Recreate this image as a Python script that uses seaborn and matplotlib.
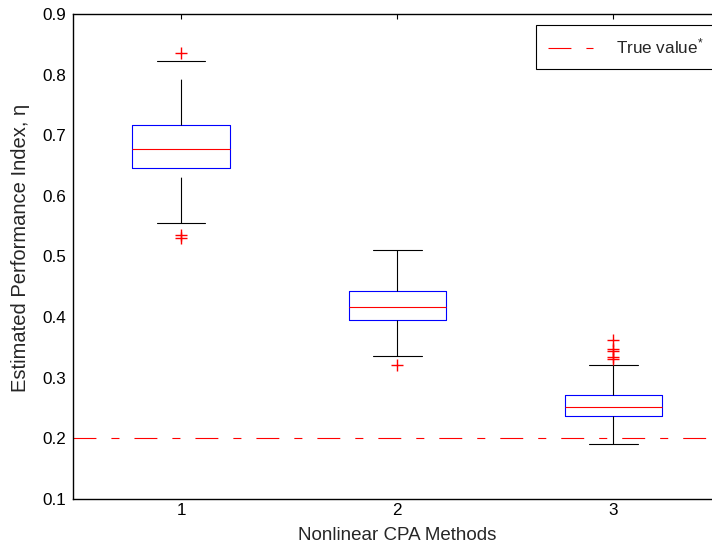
import numpy as np
import pandas as pd
import matplotlib
matplotlib.use("Agg")
import matplotlib.pyplot as plt
import seaborn as sns

# ---- data ----
methods = [1, 2, 3]
medians = [0.678, 0.417, 0.252]
q1 = [0.6455, 0.395, 0.237]
q3 = [0.717, 0.4435, 0.2715]
whisker_low = [0.555, 0.336, 0.191]
whisker_high = [0.8225, 0.511, 0.3215]
flier_method = [1, 1, 1, 2, 3, 3, 3, 3, 3]
flier_value = [0.835, 0.5355, 0.531, 0.321, 0.362, 0.348, 0.344, 0.335, 0.331]
true_value = 0.2
y_ticks = [0.1, 0.2, 0.3, 0.4, 0.5, 0.6, 0.7, 0.8, 0.9]
x_tick_labels = ["1", "2", "3"]

sns.set_style("white")
plt.rcParams['font.family'] = ['Liberation Sans', 'DejaVu Sans']
plt.rcParams['mathtext.fontset'] = 'custom'
plt.rcParams['mathtext.rm'] = 'Liberation Sans'
plt.rcParams['mathtext.it'] = 'Liberation Sans'
plt.rcParams['lines.scale_dashes'] = False

fig = plt.figure(figsize=(7.12, 5.49), dpi=100)
ax = fig.add_axes([73 / 712, 50 / 549, 648.5 / 712, 485 / 549])

stats = []
for i in range(len(methods)):
    stats.append(dict(med=medians[i], q1=q1[i], q3=q3[i],
                      whislo=whisker_low[i], whishi=whisker_high[i], fliers=[]))

art = ax.bxp(stats, positions=methods, widths=0.45, capwidths=0.225,
             showfliers=False,
             boxprops=dict(color='#0000ff', lw=0.8),
             medianprops=dict(color='#ff0000', lw=0.8),
             whiskerprops=dict(color='black', lw=0.8, linestyle=(0, (33, 14))),
             capprops=dict(color='black', lw=0.8))
# lower whiskers are drawn upward from the adjacent value, as in the reference
for w in art['whiskers'][0::2]:
    xd, yd = w.get_data()
    w.set_data(list(xd)[::-1], list(yd)[::-1])

df_fl = pd.DataFrame({'method': flier_method, 'value': flier_value})
sns.scatterplot(data=df_fl, x='method', y='value', marker='+', s=81,
                color='#ff0000', edgecolor='#ff0000', linewidth=1.0, ax=ax,
                zorder=3, legend=False)

ax.axhline(true_value, color='#ff0000', lw=0.8,
           linestyle=(0, (16.5, 10.8, 5.8, 10.8)), label='True value$^{*}$')

ax.set_xlim(0.5, 3.5)
ax.set_ylim(0.1, 0.9)
ax.set_xticks(methods)
ax.set_xticklabels(x_tick_labels)
ax.set_yticks(y_ticks)
ax.set_yticklabels([f"{v:.1f}" for v in y_ticks])

ax.tick_params(axis='both', direction='in', length=3.6, width=0.8,
               top=True, right=True, labelsize=12.3, colors='black')
ax.tick_params(axis='y', pad=4.6)
ax.tick_params(axis='x', pad=3)

for s in ax.spines.values():
    s.set_color('black')
    s.set_linewidth(1.0)

ax.set_xlabel('Nonlinear CPA Methods', fontsize=13.5)
ax.set_ylabel('Estimated Performance Index, η', fontsize=14.5)
ax.xaxis.set_label_coords(0.5, -0.058)
ax.yaxis.set_label_coords(-0.066, 0.517)

leg = ax.legend(loc='upper right', bbox_to_anchor=(716 / 712, 1 - 25 / 549),
                bbox_transform=fig.transFigure, frameon=True, fancybox=False,
                edgecolor='black', framealpha=1, borderaxespad=0,
                handlelength=2.63, handletextpad=1.35, borderpad=0.7,
                fontsize=12.3)
leg.get_frame().set_linewidth(0.8)

fig.savefig('out.png', dpi=100)
